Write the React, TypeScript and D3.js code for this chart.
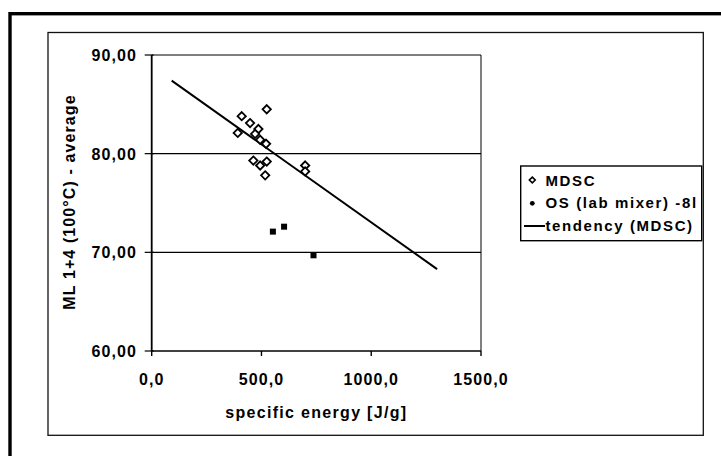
import React from "react";
import * as d3 from "d3";

const mdscEnergy = [524, 410, 448, 486, 392, 471, 494, 521, 463, 494, 524, 517, 699, 699];
const mdscML = [84.5, 83.8, 83.1, 82.5, 82.1, 82.0, 81.4, 81.0, 79.3, 78.8, 79.2, 77.8, 78.8, 78.2];
const osEnergy = [552, 603, 737];
const osML = [72.1, 72.6, 69.7];
const trendEnergy = [91, 1300];
const trendML = [87.4, 68.3];
const xTicks = [0, 500, 1000, 1500];
const yTicks = [60, 70, 80, 90];
const legendLabels = ["MDSC", "OS (lab mixer) -8l", "tendency (MDSC)"];
const xTitle = "specific energy [J/g]";
const yTitle = "ML 1+4 (100°C) - average";

const W = 721;
const H = 456;
const plot = { left: 151.7, right: 481, top: 55, bottom: 351 };
const FONT = "'Liberation Sans', Arial, sans-serif";

export default function App() {
  const x = d3.scaleLinear().domain([0, 1500]).range([plot.left, plot.right]);
  const y = d3.scaleLinear().domain([60, 90]).range([plot.bottom, plot.top]);
  const fmtX = (v: number) => v.toFixed(1).replace(".", ",");
  const fmtY = (v: number) => v.toFixed(2).replace(".", ",");
  const trendLine = d3.line<number>()
    .x((_, i) => x(trendEnergy[i]))
    .y((d) => y(d));
  const diamond = d3.symbol().type(d3.symbolDiamond2).size(44)();

  const textStyle = { fontFamily: FONT, fontWeight: 700 as const, fill: "#000" };

  return (
    <div>
      <style>{`body{margin:0;background:#fff}`}</style>
      <svg width={W} height={H} style={{ display: "block" }}>
        <rect x={0} y={0} width={W} height={H} fill="#fff" />
        <defs>
          <clipPath id="innerClip">
            <rect x={48} y={32.5} width={655.3} height={402.8} />
          </clipPath>
        </defs>
        {/* outer thick frame */}
        <rect x={10} y={13.7} width={740} height={480} fill="none" stroke="#000" strokeWidth={3.4} />
        {/* inner frame */}
        <rect x={48} y={32.5} width={655.3} height={402.8} fill="none" stroke="#111" strokeWidth={1.3} />

        {/* gridlines */}
        {yTicks.filter((t) => t !== 60 && t !== 90).map((t) => (
          <line key={"g" + t} x1={plot.left} x2={plot.right} y1={y(t)} y2={y(t)} stroke="#000" strokeWidth={1.1} />
        ))}
        {/* plot border */}
        <line x1={plot.left} x2={plot.right} y1={plot.top} y2={plot.top} stroke="#000" strokeWidth={1} />
        <line x1={plot.right} x2={plot.right} y1={plot.top} y2={plot.bottom} stroke="#000" strokeWidth={1} />
        <line x1={plot.left} x2={plot.left} y1={plot.top} y2={plot.bottom} stroke="#000" strokeWidth={1.8} />
        <line x1={plot.left} x2={plot.right} y1={plot.bottom} y2={plot.bottom} stroke="#000" strokeWidth={1.4} />

        {/* y ticks */}
        {yTicks.map((t) => (
          <g key={"y" + t}>
            <line x1={plot.left - 7} x2={plot.left + 2} y1={y(t)} y2={y(t)} stroke="#000" strokeWidth={1.2} />
            <text x={137} y={y(t) + 6} textAnchor="end" fontSize={16} letterSpacing={1.1} style={textStyle}>
              {fmtY(t)}
            </text>
          </g>
        ))}
        {/* x ticks */}
        {xTicks.map((t) => (
          <g key={"x" + t}>
            <line x1={x(t)} x2={x(t)} y1={plot.bottom} y2={plot.bottom + 5} stroke="#000" strokeWidth={1.4} />
            <text x={x(t)} y={385} textAnchor="middle" fontSize={16} letterSpacing={1.1} style={textStyle}>
              {fmtX(t)}
            </text>
          </g>
        ))}

        {/* axis titles */}
        <text x={(plot.left + plot.right) / 2} y={418} textAnchor="middle" fontSize={16} letterSpacing={1.3} style={textStyle}>
          {xTitle}
        </text>
        <text
          transform={`translate(75, ${(plot.top + plot.bottom) / 2 - 1}) rotate(-90)`}
          textAnchor="middle"
          fontSize={16}
          letterSpacing={1.1}
          style={textStyle}
        >
          {yTitle}
        </text>

        {/* trend line */}
        <path d={trendLine(trendML) || ""} fill="none" stroke="#000" strokeWidth={2} />

        {/* MDSC points */}
        {mdscEnergy.map((e, i) => (
          <path
            key={"m" + i}
            d={diamond || ""}
            transform={`translate(${x(e)},${y(mdscML[i])})`}
            fill="#fff"
            stroke="#000"
            strokeWidth={1.8}
          />
        ))}
        {/* OS points */}
        {osEnergy.map((e, i) => (
          <rect key={"o" + i} x={x(e) - 3} y={y(osML[i]) - 3} width={6} height={6} fill="#000" />
        ))}

        {/* legend */}
        <g clipPath="url(#innerClip)">
          <rect x={520.7} y={166} width={181} height={74.7} fill="#fff" stroke="#000" strokeWidth={1.4} />
          <path d={d3.symbol().type(d3.symbolDiamond2).size(22)() || ""} transform="translate(532.3,180)" fill="#fff" stroke="#000" strokeWidth={1.6} />
          <circle cx={532.3} cy={203.3} r={2.4} fill="#000" />
          <line x1={524} x2={545} y1={226} y2={226} stroke="#000" strokeWidth={2} />
          {legendLabels.map((l, i) => (
            <text key={l} x={545.5} y={185.5 + i * 22.5} fontSize={15} letterSpacing={1.6} style={textStyle}>
              {l}
            </text>
          ))}
        </g>
      </svg>
    </div>
  );
}
